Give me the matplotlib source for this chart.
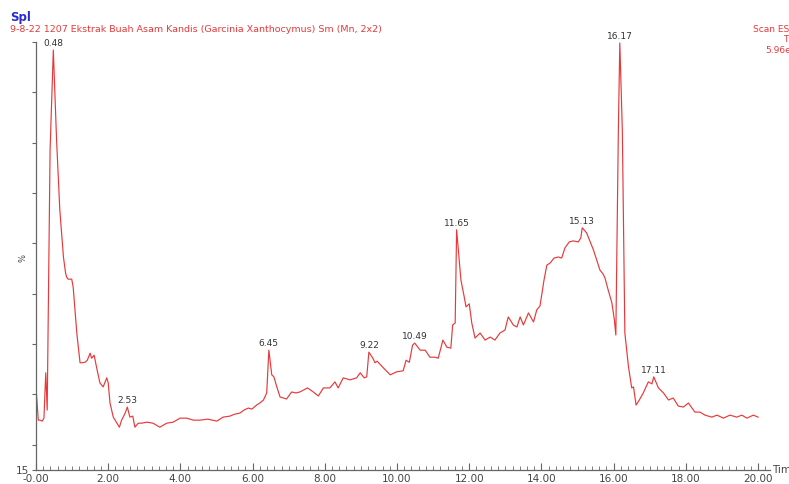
import numpy as np
import matplotlib.pyplot as plt
from matplotlib.ticker import MultipleLocator, FixedLocator

# retention time (min) and relative intensity (%)
rt = [0.00, 0.064, 0.11, 0.17, 0.22, 0.27, 0.31, 0.39, 0.48, 0.57, 0.66, 0.76,
      0.82, 0.85, 0.89, 0.99, 1.03, 1.13, 1.22, 1.27, 1.36, 1.42, 1.50, 1.54,
      1.61, 1.68, 1.77, 1.86, 1.96, 2.00, 2.05, 2.14, 2.24, 2.31, 2.37, 2.47,
      2.53, 2.60, 2.68, 2.74, 2.83, 2.93, 3.07, 3.24, 3.43, 3.62, 3.80, 3.99,
      4.17, 4.36, 4.54, 4.76, 5.01, 5.18, 5.37, 5.51, 5.65, 5.76, 5.88, 5.98,
      6.11, 6.20, 6.30, 6.39, 6.45, 6.53, 6.59, 6.67, 6.76, 6.94, 7.08, 7.20,
      7.31, 7.52, 7.68, 7.82, 7.96, 8.14, 8.28, 8.37, 8.51, 8.70, 8.88, 8.98,
      9.09, 9.16, 9.22, 9.33, 9.39, 9.45, 9.62, 9.81, 9.99, 10.17, 10.25, 10.34,
      10.43, 10.49, 10.64, 10.78, 10.91, 11.05, 11.14, 11.27, 11.38, 11.49, 11.54,
      11.61, 11.65, 11.77, 11.86, 11.91, 12.00, 12.07, 12.16, 12.30, 12.44, 12.58,
      12.71, 12.85, 12.99, 13.08, 13.22, 13.32, 13.41, 13.50, 13.64, 13.78, 13.87,
      13.96, 14.07, 14.15, 14.24, 14.35, 14.47, 14.56, 14.65, 14.77, 14.88, 15.02,
      15.09, 15.13, 15.25, 15.35, 15.44, 15.53, 15.62, 15.71, 15.76, 15.85, 15.95,
      16.02, 16.06, 16.13, 16.17, 16.24, 16.31, 16.41, 16.50, 16.55, 16.62, 16.71,
      16.82, 16.96, 17.06, 17.11, 17.24, 17.38, 17.52, 17.65, 17.79, 17.93, 18.07,
      18.25, 18.39, 18.53, 18.72, 18.86, 19.04, 19.22, 19.41, 19.55, 19.69, 19.87,
      20.00]
intensity = [31.3, 24.9, 24.9, 24.7, 25.3, 34.3, 26.9, 78.6, 98.4, 80.5, 66.6, 57.3,
             54.1, 53.3, 52.9, 52.9, 51.3, 42.2, 36.3, 36.3, 36.4, 36.8, 38.2, 37.2,
             37.8, 35.3, 32.3, 31.5, 33.3, 32.3, 28.3, 25.5, 24.3, 23.5, 24.9, 26.3,
             27.5, 25.5, 25.7, 23.5, 24.3, 24.3, 24.5, 24.3, 23.5, 24.3, 24.5, 25.3,
             25.3, 24.9, 24.9, 25.1, 24.7, 25.5, 25.7, 26.1, 26.3, 26.9, 27.3, 27.1,
             27.9, 28.3, 28.9, 30.3, 38.8, 33.9, 33.5, 31.5, 29.5, 29.1, 30.5, 30.3,
             30.5, 31.3, 30.5, 29.7, 31.3, 31.3, 32.5, 31.3, 33.3, 32.9, 33.3, 34.3,
             33.3, 33.5, 38.4, 37.2, 36.3, 36.6, 35.3, 33.9, 34.5, 34.7, 36.8, 36.4,
             39.8, 40.2, 38.8, 38.8, 37.4, 37.4, 37.2, 40.8, 39.4, 39.2, 43.8,
             44.2, 62.7, 52.7, 49.4, 47.4, 48.0, 44.2, 41.2, 42.2, 40.8, 41.4,
             40.8, 42.2, 42.8, 45.4, 43.8, 43.4, 45.4, 43.8, 46.2, 44.4, 46.8,
             47.6, 52.7, 55.7, 56.1, 57.1, 57.3, 57.1, 59.1, 60.3, 60.5, 60.3,
             61.1, 63.1, 62.1, 60.3, 58.7, 56.7, 54.7, 53.9, 53.1, 50.7, 48.2,
             44.8, 41.8, 82.5, 99.8, 82.5, 42.2, 35.5, 31.3, 31.5, 27.9, 28.9,
             30.3, 32.5, 32.1, 33.5, 31.3, 30.3, 28.9, 29.3, 27.7, 27.5, 28.3,
             26.5, 26.5, 25.9, 25.5, 25.9, 25.3, 25.9, 25.5, 25.9, 25.3, 25.9,
             25.5]

peak_rt = [0.48, 2.53, 6.45, 9.22, 10.49, 11.65, 15.13, 16.17, 17.11]
peak_labels = ['0.48', '2.53', '6.45', '9.22', '10.49', '11.65', '15.13', '16.17', '17.11']

red = '#e8393a'
grey = '#444444'

fig = plt.figure(figsize=(7.89, 4.84), dpi=100)
ax = fig.add_axes([36 / 789, 14 / 484, 734 / 789, 428 / 484])
ax.plot(rt, intensity, color=red, lw=0.85)

ax.set_xlim(0, 20.33)
ax.set_ylim(15, 100)

for s in ['top', 'right']:
    ax.spines[s].set_visible(False)
for s in ['left', 'bottom']:
    ax.spines[s].set_color('#666666')
    ax.spines[s].set_linewidth(0.9)

# x axis: majors every 2 min, minors every 0.2, ticks drawn inwards
ax.xaxis.set_major_locator(FixedLocator(np.arange(0, 20.01, 2)))
ax.xaxis.set_minor_locator(MultipleLocator(0.2))
ax.set_xticklabels(['-0.00'] + [f'{v:.2f}' for v in np.arange(2, 20.01, 2)])
ax.tick_params(axis='x', which='major', direction='in', length=5, width=0.8,
               color='#666666', labelsize=7.5, labelcolor=grey, pad=3)
ax.tick_params(axis='x', which='minor', direction='in', length=3, width=0.6,
               color='#666666')

ax.set_yticks([15] + list(range(20, 101, 10)))
ax.set_yticklabels(['15'] + [''] * 9)
ax.tick_params(axis='y', direction='out', length=3, width=0.8, color='#666666',
               labelsize=7.5, labelcolor=grey, pad=2)
ax.set_ylabel('%', fontsize=6, color=grey)
ax.yaxis.set_label_coords(-0.011, 0.495)

ax.text(1.003, 0.0, 'Time', transform=ax.transAxes, fontsize=7.5, color=grey,
        ha='left', va='center')

for t, lab in zip(peak_rt, peak_labels):
    i = rt.index(t)
    ax.annotate(lab, (t, intensity[i]), xytext=(0, 1.5), textcoords='offset points',
                ha='center', va='bottom', fontsize=6.5, color='#333333')

fig.text(10 / 789, 1 - 17 / 484, 'Spl', color='#2b2bd0', fontsize=8.5,
         fontweight='bold', va='center', ha='left')
fig.text(10 / 789, 1 - 30 / 484,
         '9-8-22 1207 Ekstrak Buah Asam Kandis (Garcinia Xanthocymus) Sm (Mn, 2x2)',
         color=red, fontsize=6.8, va='center', ha='left')
fig.text(797 / 789, 1 - 25 / 484, 'Scan ES+\nTIC\n5.96e8', color=red, fontsize=6.5,
         va='top', ha='right', linespacing=1.2, multialignment='right')

fig.savefig('out.png', dpi=100)
